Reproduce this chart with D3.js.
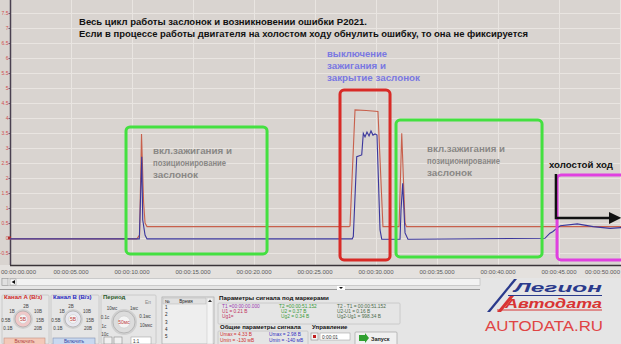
<!DOCTYPE html>
<html>
<head>
<meta charset="utf-8">
<script src="https://cdn.jsdelivr.net/npm/d3@7"></script>
<style>
  body { margin: 0; background: #e6e4e2; }
  svg { display: block; font-family: "Liberation Sans", Arial, sans-serif; }
</style>
</head>
<body>
<div id="chart"></div>
<script>
// time axis (seconds) and labels
const timeTicks = [0, 5, 10, 15, 20, 25, 30, 35, 40, 45, 50];
const timeLabels = ['00:00:00.000', '00:00:05.000', '00:00:10.000', '00:00:15.000', '00:00:20.000',
  '00:00:25.000', '00:00:30.000', '00:00:35.000', '00:00:40.000', '00:00:45.000', '00:00:50.000'];
// voltage ticks
const voltTicks = [-0.5, 0, 0.5, 1, 1.5, 2, 2.5, 3, 3.5, 4, 4.5, 5, 5.5, 6, 6.5, 7, 7.5];

// channel A (red) [t, V]
const channelA = [
  [0, -0.03], [10.4, -0.03], [10.62, 0.1], [10.78, 3.47], [10.95, 1.2], [11.07, 0.5], [11.23, 0.38],
  [27.79, 0.38], [27.87, 0.4], [28.28, 4.27], [29.2, 4.25], [30.16, 4.22], [30.57, 0.38],
  [31.89, 0.38], [32.11, 3.49], [32.38, 0.5], [32.5, 0.38], [50.2, 0.38]
];
// channel B (blue) [t, V]
const channelB = [
  [0, -0.03], [10.6, -0.03], [10.8, 2.71], [10.88, 0.6], [11.07, 0.1], [11.23, -0.03],
  [28.05, -0.03], [28.14, 0.05], [28.42, 2.71], [28.83, 2.77], [28.96, 3.49], [29.1, 3.37],
  [29.26, 3.53], [29.43, 3.4], [29.59, 3.57], [29.75, 3.43], [29.92, 3.47], [30.08, 3.43],
  [30.33, 0.27], [30.47, -0.04],
  [31.97, -0.04], [32.05, 0.93], [32.19, 1.82], [32.38, 0.17], [32.62, -0.04],
  [43.85, -0.01], [44.26, 0.16], [44.48, 0.21], [44.81, 0.32], [45.1, 0.41], [46.5, 0.47],
  [47.8, 0.38], [49.2, 0.32], [50.2, 0.35]
];

// annotation boxes in data units [t0, t1], [vTop, vBottom]
const boxes = [
  { t: [9.51, 21.07], v: [3.7, -0.53], color: '#44e040' },
  { t: [27.05, 31.15], v: [4.93, -0.73], color: '#d82a26' },
  { t: [31.64, 43.61], v: [3.93, -0.63], color: '#44e040' },
  { t: [44.84, 52], v: [2.1, -0.73], color: '#e040e0' }
];

const width = 621, height = 344;
const plotBottom = 265;

const svg = d3.select('#chart').append('svg')
  .attr('width', width)
  .attr('height', height);

const x = d3.scaleLinear().domain([0, 50]).range([10, 620]);
const y = d3.scaleLinear().domain([0, 8]).range([238, -2]);

// plot background
svg.append('rect').attr('x', 0).attr('y', 0).attr('width', width).attr('height', plotBottom)
  .attr('fill', '#d9d4d0');

svg.append('defs').append('clipPath').attr('id', 'plot-clip')
  .append('rect').attr('x', 10).attr('y', 0).attr('width', width - 10).attr('height', plotBottom);

// grid
const grid = svg.append('g');
grid.selectAll('.h').data(voltTicks).join('line')
  .attr('x1', 10).attr('x2', width)
  .attr('y1', d => Math.round(y(d)) + 0.5).attr('y2', d => Math.round(y(d)) + 0.5)
  .attr('stroke', '#e9e5e1').attr('stroke-width', 1);
grid.selectAll('.v').data(timeTicks.slice(1)).join('line')
  .attr('x1', d => Math.round(x(d)) + 0.5).attr('x2', d => Math.round(x(d)) + 0.5)
  .attr('y1', 0).attr('y2', plotBottom)
  .attr('stroke', '#e9e5e1').attr('stroke-width', 1);

// left axis
const yAxis = svg.append('g')
  .attr('transform', 'translate(10,0)')
  .call(d3.axisLeft(y).tickValues(voltTicks).tickSize(1.5).tickPadding(0).tickFormat(d3.format('~g')));
yAxis.select('.domain').remove();
yAxis.selectAll('text').attr('font-size', 5).attr('fill', '#d05050');
yAxis.selectAll('line').attr('stroke', '#6a5a6a');
svg.append('line').attr('x1', 10.5).attr('x2', 10.5).attr('y1', 0).attr('y2', plotBottom)
  .attr('stroke', '#4a4050').attr('stroke-width', 1.5);
svg.append('rect').attr('x', 8).attr('y', y(0) - 1.5).attr('width', 3).attr('height', 3).attr('fill', '#b03030');

// bottom strip with time labels
svg.append('rect').attr('x', 0).attr('y', plotBottom).attr('width', width).attr('height', 13)
  .attr('fill', '#e4e1de');
svg.append('line').attr('x1', 10).attr('x2', width).attr('y1', plotBottom + 0.5).attr('y2', plotBottom + 0.5)
  .attr('stroke', '#3a3438').attr('stroke-width', 1.5);
const lastTick = timeTicks.length - 1;
svg.append('g').selectAll('text').data(timeTicks).join('text')
  .attr('x', (d, i) => i === 0 ? 1 : i === lastTick ? width - 1 : x(d))
  .attr('y', 274)
  .attr('text-anchor', (d, i) => i === 0 ? 'start' : i === lastTick ? 'end' : 'middle')
  .attr('font-size', 6)
  .attr('fill', '#5a5a5a')
  .text((d, i) => timeLabels[i]);

// signals
const line = d3.line().x(d => x(d[0])).y(d => y(d[1]));
const traces = svg.append('g').attr('clip-path', 'url(#plot-clip)');
traces.append('path').datum(channelA).attr('d', line)
  .attr('fill', 'none').attr('stroke', '#c8604c').attr('stroke-width', 1.1);
traces.append('path').datum(channelB).attr('d', line)
  .attr('fill', 'none').attr('stroke', '#3a369c').attr('stroke-width', 1.1);

// annotation boxes
svg.append('g').selectAll('rect').data(boxes).join('rect')
  .attr('x', d => x(d.t[0]))
  .attr('y', d => y(d.v[0]))
  .attr('width', d => x(d.t[1]) - x(d.t[0]))
  .attr('height', d => y(d.v[1]) - y(d.v[0]))
  .attr('rx', 4)
  .attr('fill', 'none')
  .attr('stroke', d => d.color)
  .attr('stroke-width', 3);

// idle arrow
svg.append('path')
  .attr('d', `M${x(44.75)},${y(2.13)} V${y(0.67)} H${x(49.3)}`)
  .attr('fill', 'none').attr('stroke', '#111').attr('stroke-width', 2.5);
svg.append('path')
  .attr('d', `M${x(49.1)},${y(0.67) - 6} L${x(50.1)},${y(0.67)} L${x(49.1)},${y(0.67) + 6} Z`)
  .attr('fill', '#111');

// texts
function label(lines, x0, y0, dy, color, widths) {
  const t = svg.append('g');
  lines.forEach((s, i) => {
    const el = t.append('text')
      .attr('x', x0).attr('y', y0 + i * dy)
      .attr('font-size', 9.5).attr('font-weight', 'bold')
      .attr('fill', color).text(s);
    if (widths && widths[i]) el.attr('textLength', widths[i]).attr('lengthAdjust', 'spacingAndGlyphs');
  });
}
label(['Весь цикл работы заслонок и возникновении ошибки P2021.',
  'Если в процессе работы двигателя на холостом ходу обнулить ошибку, то она не фиксируется'],
  79, 24.5, 12, '#111', [288, 449]);
label(['выключение', 'зажигания и', 'закрытие заслонок'], 327, 56.5, 12, '#7a78e2', [60, 59, 93]);
label(['вкл.зажигания и', 'позиционирование', 'заслонок'], 153, 153.5, 12, '#8a8886', [79, 73, 45]);
label(['вкл.зажигания и', 'позиционирование', 'заслонок'], 427, 151.5, 12, '#8a8886', [78, 73, 45]);
label(['холостой ход'], 549, 167.5, 12, '#111', [64]);

// ---- bottom control panel ----
const panel = svg.append('g');
panel.append('rect').attr('x', 0).attr('y', 278).attr('width', width).attr('height', 66).attr('fill', '#e5e5e5');
// scroll row
panel.append('rect').attr('x', 2).attr('y', 278.5).attr('width', 478).attr('height', 7)
  .attr('fill', '#f2f2f2').attr('stroke', '#b5b5b5').attr('stroke-width', 0.6);
panel.append('rect').attr('x', 2).attr('y', 278.5).attr('width', 6).attr('height', 7)
  .attr('fill', '#e0e0e0').attr('stroke', '#999').attr('stroke-width', 0.6);
panel.append('rect').attr('x', 10).attr('y', 279).attr('width', 6).attr('height', 6).attr('fill', '#fff').attr('stroke', '#888').attr('stroke-width', 0.5);
panel.append('path').attr('d', 'M15,280 L11.5,282 L15,284 Z').attr('fill', '#111');
panel.append('line').attr('x1', 0).attr('x2', 480).attr('y1', 289.5).attr('y2', 289.5).attr('stroke', '#9a9a9a');
panel.append('rect').attr('x', 337).attr('y', 286).attr('width', 8).attr('height', 4).attr('fill', '#fff');
panel.append('path').attr('d', 'M339,287 L343,287 L341,289 Z').attr('fill', '#111');

function groupBox(x0, y0, w, h) {
  panel.append('rect').attr('x', x0).attr('y', y0).attr('width', w).attr('height', h)
    .attr('fill', 'none').attr('stroke', '#c4c4c4').attr('stroke-width', 0.8).attr('rx', 1);
}
function small(s, x0, y0, color, size = 5, weight = 'normal', anchor = 'start') {
  return panel.append('text').attr('x', x0).attr('y', y0).attr('font-size', size)
    .attr('font-weight', weight).attr('fill', color).attr('text-anchor', anchor).text(s);
}
function knob(cx, cy, r, face, inner, labels) {
  panel.append('circle').attr('cx', cx).attr('cy', cy).attr('r', r + 2).attr('fill', '#d0d0d0');
  panel.append('circle').attr('cx', cx).attr('cy', cy).attr('r', r).attr('fill', face)
    .attr('stroke', '#a0a0a0').attr('stroke-width', 0.6);
  panel.append('circle').attr('cx', cx).attr('cy', cy).attr('r', r * 0.55).attr('fill', '#f4f4f4')
    .attr('stroke', '#c8c8c8').attr('stroke-width', 0.5);
  small(inner, cx, cy + 2, '#c04040', 5, 'normal', 'middle');
  labels.forEach(l => small(l[2], cx + l[0], cy + l[1], '#444', 4.5, 'normal', 'middle'));
}

groupBox(2, 295, 47, 49);
small('Канал A (В/з)', 4, 299, '#d02828', 6, 'bold');
knob(23, 319, 8, '#f0c8c8', '5В', [[3, -11, '2В'], [-11, -6, '1В'], [-17, 3, '0.5В'], [-15, 11, '0.1В'], [15, -6, '10В'], [17, 3, '15В'], [15, 11, '20В']]);
panel.append('rect').attr('x', 4).attr('y', 338).attr('width', 41).attr('height', 8).attr('fill', '#f4c8b8').attr('stroke', '#c09080').attr('stroke-width', 0.6);
small('Включить', 24.5, 343, '#b04040', 4.5, 'normal', 'middle');

groupBox(51, 295, 48, 49);
small('Канал B (В/з)', 53, 299, '#2828c0', 6, 'bold');
knob(73, 319, 8, '#e8e8f0', '5В', [[-2, -11, '2В'], [-11, -6, '1В'], [-17, 3, '0.5В'], [-15, 11, '0.1В'], [14, -6, '10В'], [17, 3, '15В'], [15, 11, '20В']]);
panel.append('rect').attr('x', 53).attr('y', 338).attr('width', 42).attr('height', 8).attr('fill', '#c8d8f0').attr('stroke', '#8090b0').attr('stroke-width', 0.6);
small('Включить', 74, 343, '#3040a0', 4.5, 'normal', 'middle');

groupBox(101, 295, 55, 49);
small('Период', 103, 299, '#2a5a2a', 6, 'bold');
small('Еп', 145, 304, '#888', 5);
knob(124, 322, 11, '#dcdcdc', '50мс', [[-12, -12, '10мс'], [-19, -3, '0.1с'], [-20, 6, '1с'], [-19, 14, '10с'], [10, -12, '1мс'], [21, -4, '0.1мс'], [22, 5, '10мкс']]);
[104, 114].forEach(bx => panel.append('rect').attr('x', bx).attr('y', 337).attr('width', 8).attr('height', 7)
  .attr('fill', '#f0f0f0').attr('stroke', '#777').attr('stroke-width', 0.5));
panel.append('rect').attr('x', 131).attr('y', 337).attr('width', 20).attr('height', 7).attr('fill', '#fff').attr('stroke', '#999').attr('stroke-width', 0.5);
small('1:1', 133, 342.5, '#333', 4.5);

// list box
panel.append('rect').attr('x', 162).attr('y', 297).attr('width', 52).attr('height', 47)
  .attr('fill', '#eeeeee').attr('stroke', '#9a9a9a').attr('stroke-width', 0.6);
panel.append('rect').attr('x', 163).attr('y', 298).attr('width', 43).attr('height', 6).attr('fill', '#e0e0e0').attr('stroke', '#aaa').attr('stroke-width', 0.4);
small('№', 165, 302.5, '#222', 4.5);
small('Время', 186, 302.5, '#222', 4.5, 'normal', 'middle');
['1', '2', '3', '4', '5'].forEach((s, i) => small(s, 165, 309 + i * 7.3, '#222', 4.5));
panel.append('rect').attr('x', 207).attr('y', 298).attr('width', 6).attr('height', 46).attr('fill', '#f4f4f4').attr('stroke', '#bbb').attr('stroke-width', 0.4);
panel.append('path').attr('d', 'M208,302 L210,299.5 L212,302 Z').attr('fill', '#333');

// marker parameters
small('Параметры сигнала под маркерами', 219, 300, '#111', 6.2, 'bold');
groupBox(218, 303, 182, 21);
small('T1 =00:00:00.000', 222, 308, '#9a3ab0', 4.8);
small('U1 = 0.21 В', 222, 313, '#c03060', 4.8);
small('Ug1=', 222, 318, '#c03060', 4.8);
small('T2 =00:00:51.152', 279, 308, '#3a9a3a', 4.8);
small('U2 = 0.37 В', 281, 313, '#3a9a3a', 4.8);
small('Ug2 = 0.34 В', 281, 318, '#3a9a3a', 4.8);
small('T2 - T1 = 00:00:51.152', 337, 308, '#4a6a4a', 4.8);
small('U2-U1 = 0.16 В', 337, 313, '#4a6a4a', 4.8);
small('Ug2-Ug1 = 998.34 В', 337, 318, '#4a6a4a', 4.8);

small('Общие параметры сигнала', 220, 329, '#111', 6, 'bold');
groupBox(218, 331, 90, 14);
small('Umax = 4.33 В', 220, 336, '#d03030', 4.8);
small('Umin = -130 мВ', 220, 342, '#d03030', 4.8);
small('Umax = 2.98 В', 269, 336, '#3030c0', 4.8);
small('Umin = -140 мВ', 269, 342, '#3030c0', 4.8);

small('Управление', 312, 329, '#111', 6, 'bold');
panel.append('rect').attr('x', 311).attr('y', 333).attr('width', 7).attr('height', 7).attr('fill', '#f4f4f4').attr('stroke', '#777').attr('stroke-width', 0.5);
panel.append('rect').attr('x', 313).attr('y', 335).attr('width', 3).attr('height', 3).attr('fill', '#c02020');
panel.append('rect').attr('x', 320).attr('y', 333).attr('width', 30).attr('height', 7).attr('fill', '#fff').attr('stroke', '#999').attr('stroke-width', 0.5);
small('0:00:01', 322, 338.5, '#333', 4.8);
panel.append('rect').attr('x', 355).attr('y', 332).attr('width', 42).attr('height', 13).attr('fill', '#f0f0f0').attr('stroke', '#999').attr('stroke-width', 0.6).attr('rx', 1);
panel.append('path').attr('d', 'M359,335 L365,335 L365,333 L369,338 L365,343 L365,341 L359,341 Z').attr('fill', '#30a030');
small('Запуск', 371, 341, '#222', 5.5, 'bold');

// logo
const logo = svg.append('g');
logo.append('path').attr('d', 'M487,312 L514,279 L517,279 L490,312 Z').attr('fill', '#2a3a8c');
logo.append('path').attr('d', 'M497,312 L510,296 L514,296 L501,312 Z').attr('fill', '#d83434');
logo.append('text').attr('x', 514).attr('y', 292).attr('font-size', 13.5).attr('font-weight', 'bold')
  .attr('font-style', 'italic').attr('fill', '#2a3a8c')
  .attr('textLength', 88).attr('lengthAdjust', 'spacingAndGlyphs').text('Легион');
logo.append('line').attr('x1', 508).attr('x2', 602).attr('y1', 295.5).attr('y2', 295.5).attr('stroke', '#2a3a8c').attr('stroke-width', 1);
logo.append('text').attr('x', 505).attr('y', 308).attr('font-size', 13).attr('font-weight', 'bold')
  .attr('font-style', 'italic').attr('fill', '#d83434')
  .attr('textLength', 97).attr('lengthAdjust', 'spacingAndGlyphs').text('Автодата');
logo.append('line').attr('x1', 497).attr('x2', 602).attr('y1', 310).attr('y2', 310).attr('stroke', '#d83434').attr('stroke-width', 1);
logo.append('text').attr('x', 485).attr('y', 331).attr('font-size', 14).attr('fill', '#e04444')
  .attr('textLength', 118).attr('lengthAdjust', 'spacingAndGlyphs').text('AUTODATA.RU');
</script>
</body>
</html>
